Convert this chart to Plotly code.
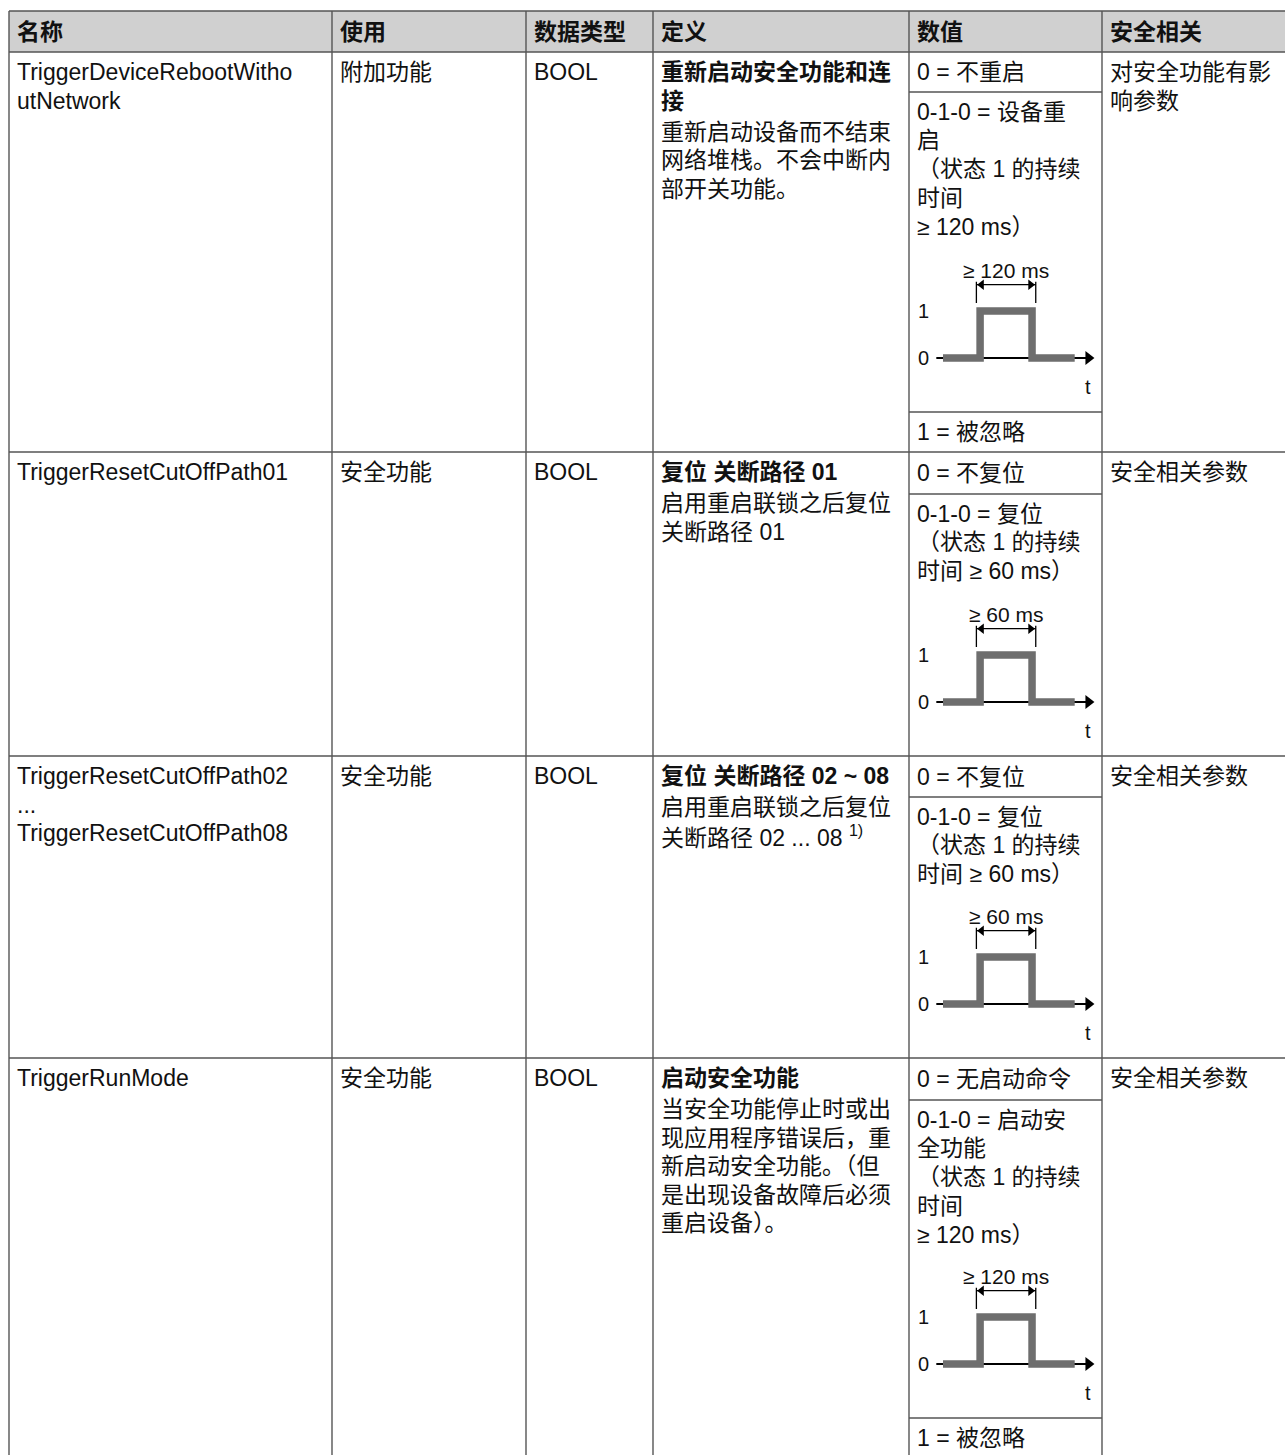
import plotly.graph_objects as go

# ---------------- data ----------------
headers = ["名称", "使用", "数据类型", "定义", "数值", "安全相关"]
names = [["TriggerDeviceRebootWitho", "utNetwork"],
         ["TriggerResetCutOffPath01"],
         ["TriggerResetCutOffPath02", "...", "TriggerResetCutOffPath08"],
         ["TriggerRunMode"]]
usage = ["附加功能", "安全功能", "安全功能", "安全功能"]
data_types = ["BOOL", "BOOL", "BOOL", "BOOL"]
def_titles = [["重新启动安全功能和连", "接"],
              ["复位 关断路径 01"],
              ["复位 关断路径 02 ~ 08"],
              ["启动安全功能"]]
def_bodies = [["重新启动设备而不结束", "网络堆栈。不会中断内", "部开关功能。"],
              ["启用重启联锁之后复位", "关断路径 01"],
              ["启用重启联锁之后复位", "关断路径 02 ... 08 <sup>1)</sup>"],
              ["当安全功能停止时或出", "现应用程序错误后，重", "新启动安全功能。（但",
               "是出现设备故障后必须", "重启设备）。"]]
value_zero = ["0 = 不重启", "0 = 不复位", "0 = 不复位", "0 = 无启动命令"]
value_pulse = [["0-1-0 = 设备重", "启", "（状态 1 的持续", "时间", "≥ 120 ms）"],
               ["0-1-0 = 复位", "（状态 1 的持续", "时间 ≥ 60 ms）"],
               ["0-1-0 = 复位", "（状态 1 的持续", "时间 ≥ 60 ms）"],
               ["0-1-0 = 启动安", "全功能", "（状态 1 的持续", "时间", "≥ 120 ms）"]]
pulse_min = ["≥ 120 ms", "≥ 60 ms", "≥ 60 ms", "≥ 120 ms"]
value_one = ["1 = 被忽略", "", "", "1 = 被忽略"]
safety = [["对安全功能有影", "响参数"], ["安全相关参数"], ["安全相关参数"], ["安全相关参数"]]

# pulse diagram (time units, signal level)
pulse_t = [0, 1, 1, 2.4, 2.4, 3.55]
pulse_level = [0, 0, 1, 1, 0, 0]
level_labels = ["0", "1"]
time_label = "t"

# ---------------- geometry / style ----------------
W, H = 1285, 1455
col_edges = [9, 332, 526, 653, 909, 1102, 1295]
table_top = 11
header_h = 41
row_h = [400, 304, 302, 400]
zero_h = [40, 42, 41, 42]
one_h = 40
line_h = 28.5
val_line_h = 28.8
first_off = 20
body_gap = 31
pad = 8
FS = 23
FONT = "Liberation Sans, Arial, Noto Sans CJK SC, sans-serif"
TEXT = "#111111"
GRID = "#555555"
GRID_W = 1.4
HEAD_FILL = "#d0d0d0"
PULSE_C = "#6e6e6e"

diag_x0_off = 34      # px from value column edge to t=0
px_per_t = 37.1
px_per_level = 47
base_from_cell_bottom = 54
xr = [-1, 4.5]
yr = [-1, 2.2]

annotations = []
shapes = []


def txt(x, y, s, size=FS, bold=False, xref="x", yref="y", xanchor="left"):
    annotations.append(dict(
        x=x, y=y, xref=xref, yref=yref,
        text=f"<b>{s}</b>" if bold else s,
        showarrow=False, xanchor=xanchor, yanchor="middle",
        borderpad=0, borderwidth=0,
        font=dict(size=size, color=TEXT, family=FONT)))


def hline(y, x0, x1):
    shapes.append(dict(type="line", xref="x", yref="y", x0=x0, x1=x1, y0=y, y1=y,
                       line=dict(color=GRID, width=GRID_W), layer="above"))


def vline(x, y0, y1):
    shapes.append(dict(type="line", xref="x", yref="y", x0=x, x1=x, y0=y0, y1=y1,
                       line=dict(color=GRID, width=GRID_W), layer="above"))


fig = go.Figure()
# anchor trace for the main (pixel) axes
fig.add_trace(go.Scatter(x=[0, W], y=[0, H], mode="markers",
                         marker=dict(opacity=0), hoverinfo="skip", showlegend=False))

# header
table_bottom = table_top + header_h + sum(row_h)
shapes.append(dict(type="rect", xref="x", yref="y", x0=col_edges[0], x1=col_edges[-1],
                   y0=table_top, y1=table_top + header_h, fillcolor=HEAD_FILL,
                   line=dict(width=0), layer="below"))
for c, h in enumerate(headers):
    txt(col_edges[c] + pad, table_top + header_h / 2, h, bold=True)

hline(table_top, col_edges[0], col_edges[-1])
for e in col_edges:
    vline(e, table_top, table_bottom)

row_tops = [table_top + header_h]
for h in row_h[:-1]:
    row_tops.append(row_tops[-1] + h)

layout_axes = {}
for i, top in enumerate(row_tops):
    hline(top, col_edges[0], col_edges[-1])
    for j, s in enumerate(names[i]):
        txt(col_edges[0] + pad, top + first_off + j * line_h, s)
    txt(col_edges[1] + pad, top + first_off, usage[i])
    txt(col_edges[2] + pad, top + first_off, data_types[i])
    for j, s in enumerate(def_titles[i]):
        txt(col_edges[3] + pad, top + first_off + j * line_h, s, bold=True)
    by = top + first_off + (len(def_titles[i]) - 1) * line_h + body_gap
    for j, s in enumerate(def_bodies[i]):
        txt(col_edges[3] + pad, by + j * line_h, s)
    for j, s in enumerate(safety[i]):
        txt(col_edges[5] + pad, top + first_off + j * line_h, s)
    vx = col_edges[4] + pad
    txt(vx, top + zero_h[i] / 2, value_zero[i])
    ptop = top + zero_h[i]
    hline(ptop, col_edges[4], col_edges[5])
    pbot = top + row_h[i]
    if value_one[i]:
        pbot -= one_h
        hline(pbot, col_edges[4], col_edges[5])
        txt(vx, pbot + one_h / 2, value_one[i])
    for j, s in enumerate(value_pulse[i]):
        txt(vx, ptop + 19.5 + j * val_line_h, s)

    # pulse diagram in its own axes
    k = i + 2
    base = pbot - base_from_cell_bottom
    x0px = col_edges[4] + diag_x0_off
    xd = [(x0px + xr[0] * px_per_t) / W, (x0px + xr[1] * px_per_t) / W]
    yd = [1 - (base - yr[0] * px_per_level) / H, 1 - (base - yr[1] * px_per_level) / H]
    layout_axes[f"xaxis{k}"] = dict(domain=xd, range=xr, anchor=f"y{k}", visible=False, fixedrange=True)
    layout_axes[f"yaxis{k}"] = dict(domain=yd, range=yr, anchor=f"x{k}", visible=False, fixedrange=True)
    xa, ya = f"x{k}", f"y{k}"
    t_start, t_rise, t_fall, t_end = pulse_t[0], pulse_t[1], pulse_t[3], pulse_t[-1]
    tip_c = t_end + 0.37
    # time axis (thin black) below the pulse
    fig.add_trace(go.Scatter(x=[t_start - 0.18, tip_c], y=[0, 0], mode="lines",
                             line=dict(color="black", width=2.2), xaxis=xa, yaxis=ya,
                             hoverinfo="skip", showlegend=False))
    fig.add_trace(go.Scatter(x=pulse_t, y=pulse_level, mode="lines",
                             line=dict(color=PULSE_C, width=7.5), xaxis=xa, yaxis=ya,
                             hoverinfo="skip", showlegend=False))
    # time axis arrow head
    fig.add_trace(go.Scatter(x=[tip_c], y=[0], mode="markers",
                             marker=dict(symbol="triangle-right", size=12, color="black",
                                         line=dict(width=0)),
                             xaxis=xa, yaxis=ya, hoverinfo="skip", showlegend=False))
    # dimension ticks + double arrow
    tl, tr = t_rise - 0.1, t_fall + 0.1
    fig.add_trace(go.Scatter(x=[tl, tl, None, tr, tr, None, tl, tr],
                             y=[1.17, 1.62, None, 1.17, 1.62, None, 1.56, 1.56],
                             mode="lines", line=dict(color="black", width=1.3),
                             xaxis=xa, yaxis=ya, hoverinfo="skip", showlegend=False))
    fig.add_trace(go.Scatter(x=[tl + 0.14, tr - 0.14], y=[1.56, 1.56], mode="markers",
                             marker=dict(symbol=["triangle-left", "triangle-right"], size=9,
                                         color="black", line=dict(width=0)),
                             xaxis=xa, yaxis=ya, hoverinfo="skip", showlegend=False))
    txt((tl + tr) / 2, 1.86, pulse_min[i], size=21, xref=xa, yref=ya, xanchor="center")
    for lv, lab in enumerate(level_labels):
        txt(-0.52, lv, lab, size=20, xref=xa, yref=ya, xanchor="center")
    txt(t_end + 0.35, -0.62, time_label, size=20, xref=xa, yref=ya, xanchor="center")

fig.update_layout(
    width=W, height=H, autosize=False,
    margin=dict(l=0, r=0, t=0, b=0, pad=0),
    paper_bgcolor="white", plot_bgcolor="rgba(0,0,0,0)",
    xaxis=dict(range=[0, W], domain=[0, 1], visible=False, fixedrange=True),
    yaxis=dict(range=[H, 0], domain=[0, 1], visible=False, fixedrange=True),
    showlegend=False, hovermode=False,
    shapes=shapes, annotations=annotations,
    font=dict(family=FONT, color=TEXT),
    **layout_axes)

fig.write_html("out.html", config={"displayModeBar": False, "staticPlot": True},
               post_script="document.body.style.margin='0';document.body.style.overflow='hidden';")
